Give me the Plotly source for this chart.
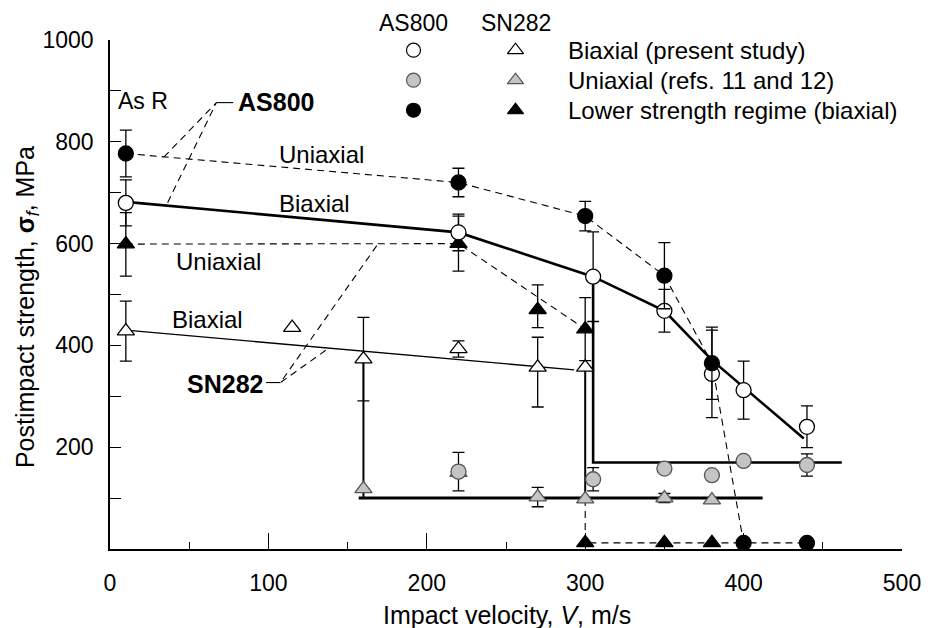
import plotly.graph_objects as go

# ---------------- data ----------------
# AS800, biaxial (present study) - open circles
as_biax_v = [10, 220, 305, 350, 380, 400, 440]
as_biax_s = [680, 622, 535, 468, 344, 312, 240]
as_biax_err = [45, 36, 88, 42, 86, 57, 41]

# AS800, uniaxial (refs. 11 and 12) - grey circles
as_uni_v = [220, 305, 350, 380, 400, 440]
as_uni_s = [152, 137, 158, 145, 173, 165]
as_uni_err = [38, 23, 0, 0, 0, 22]

# AS800, lower strength regime (biaxial) - filled circles
as_low_v = [10, 220, 300, 350, 380, 400, 440]
as_low_s = [777, 720, 654, 537, 365, 12, 12]
as_low_err = [46, 28, 29, 65, 71, 0, 0]

# SN282, biaxial (present study) - open triangles
sn_biax_v = [10, 115, 160, 220, 270, 300]
sn_biax_s = [428, 435, 373, 393, 357, 357]
sn_biax_err_hi = [59, 0, 82, 16, 59, 0]
sn_biax_err_lo = [59, 0, 82, 16, 78, 0]

# SN282, uniaxial (refs. 11 and 12) - grey triangles
sn_uni_v = [160, 220, 270, 300, 350, 380]
sn_uni_s = [118, 150, 102, 98, 100, 96]
sn_uni_err = [0, 0, 19, 0, 9, 0]

# SN282, lower strength regime (biaxial) - filled triangles
sn_low_v = [10, 220, 270, 300, 300, 350, 380]
sn_low_s = [599, 600, 470, 432, 12, 12, 12]
sn_low_err_hi = [62, 54, 49, 62, 0, 0, 0]
sn_low_err_lo = [63, 54, 35, 62, 0, 0, 0]

# trend lines
as_biax_fit_v = [10, 220, 305, 350, 380, 438]
as_biax_fit_s = [682, 622, 535, 468, 371, 217]
as_step_v = [305, 305, 462]
as_step_s = [535, 170, 170]
as_dash_v = [10, 220, 300, 350, 380, 400, 440]
as_dash_s = [777, 720, 654, 537, 365, 12, 12]

sn_biax_fit_v = [10, 293]
sn_biax_fit_s = [430, 352]
sn_step_v = [160, 160]
sn_step_s = [373, 100]
sn_step2_v = [300, 300]
sn_step2_s = [357, 100]
sn_floor_v = [157, 412]
sn_floor_s = [100, 100]
sn_dash_v = [10, 220, 300]
sn_dash_s = [599, 600, 432]
sn_drop_v = [300, 300, 400]
sn_drop_s = [98, 12, 12]

# label leaders
as_lead_v = [34, 67.2, 36]
as_lead_s = [770, 877, 678]
as_lead_tail_v = [67.2, 77.8]
as_lead_tail_s = [877, 877]
sn_lead_v = [168.4, 107.6, 138.3]
sn_lead_s = [596, 327, 395]
sn_lead_tail_v = [98.6, 107.6]
sn_lead_tail_s = [327, 327]

# axis ticks
x_major = [0, 100, 200, 300, 400, 500]
x_minor = [50, 150, 250, 350, 450]
y_major = [200, 400, 600, 800, 1000]
y_minor = [100, 300, 500, 700, 900]

FONT = "Liberation Sans, Arial, Helvetica, sans-serif"
GREY = "#c4c4c4"
GREY_EDGE = "#555555"
MS = 15

fig = go.Figure()


def line(v, s, width=1.2, dash="solid"):
    fig.add_trace(go.Scatter(x=v, y=s, mode="lines",
                             line=dict(color="black", width=width, dash=dash),
                             hoverinfo="skip", showlegend=False))


DASH = "7px,5px"
line(as_dash_v, as_dash_s, 1.1, DASH)
line(sn_dash_v, sn_dash_s, 1.1, DASH)
line(sn_drop_v, sn_drop_s, 1.1, DASH)
line(as_lead_v, as_lead_s, 1.1, DASH)
line(sn_lead_v, sn_lead_s, 1.1, DASH)
line(as_lead_tail_v, as_lead_tail_s, 1.1)
line(sn_lead_tail_v, sn_lead_tail_s, 1.1)
line(sn_biax_fit_v, sn_biax_fit_s, 1.4)
line(sn_step_v, sn_step_s, 2.0)
line(sn_step2_v, sn_step2_s, 2.0)
line(sn_floor_v, sn_floor_s, 3.0)
line(as_step_v, as_step_s, 2.6)
line(as_biax_fit_v, as_biax_fit_s, 2.6)


def pts(v, s, symbol, fill, edge, hi=None, lo=None):
    err = None
    if hi is not None:
        err = dict(type="data", array=hi, arrayminus=lo if lo is not None else hi,
                   symmetric=False, color="black", thickness=1.3, width=6)
    fig.add_trace(go.Scatter(
        x=v, y=s, mode="markers", error_y=err, cliponaxis=False,
        marker=dict(symbol=symbol, size=MS, color=fill,
                    line=dict(color=edge, width=1.3)),
        hoverinfo="skip", showlegend=False))


pts(sn_uni_v, sn_uni_s, "triangle-up", GREY, GREY_EDGE, sn_uni_err)
pts(as_uni_v, as_uni_s, "circle", GREY, GREY_EDGE, as_uni_err)
pts(sn_biax_v, sn_biax_s, "triangle-up", "white", "black", sn_biax_err_hi, sn_biax_err_lo)
pts(sn_low_v, sn_low_s, "triangle-up", "black", "black", sn_low_err_hi, sn_low_err_lo)
pts(as_biax_v, as_biax_s, "circle", "white", "black", as_biax_err)
pts(as_low_v, as_low_s, "circle", "black", "black", as_low_err)

# legend keys
key_as_v = [191.6, 191.6, 191.6]
key_sn_v = [256, 256, 256]
key_s = [980, 921, 862]
key_fill = ["white", GREY, "black"]
key_edge = ["black", GREY_EDGE, "black"]
key_text = ["Biaxial (present study)", "Uniaxial (refs. 11 and 12)",
            "Lower strength regime (biaxial)"]
fig.add_trace(go.Scatter(x=key_as_v, y=key_s, mode="markers", cliponaxis=False,
                         marker=dict(symbol="circle", size=14, color=key_fill,
                                     line=dict(color=key_edge, width=1.2)),
                         hoverinfo="skip", showlegend=False))
fig.add_trace(go.Scatter(x=key_sn_v, y=key_s, mode="markers", cliponaxis=False,
                         marker=dict(symbol="triangle-up", size=14, color=key_fill,
                                     line=dict(color=key_edge, width=1.2)),
                         hoverinfo="skip", showlegend=False))

ann = []


def text(x, y, t, xanchor="center", size=24, xref="x", yref="y", angle=0):
    ann.append(dict(x=x, y=y, xref=xref, yref=yref, text=t, showarrow=False,
                    xanchor=xanchor, yanchor="middle", textangle=angle,
                    font=dict(family=FONT, size=size, color="black")))


# column headers of the key sit just above the plotting area
text(191.6, 1.0334, "AS800", size=23, yref="paper")
text(256, 1.0334, "SN282", size=23, yref="paper")
for s, t in zip(key_s, key_text):
    text(288, s, t, xanchor="left", size=24)

text(21, 880, "As R", size=23)
text(104.7, 878, "<b>AS800</b>", size=25)
text(133.8, 776, "Uniaxial")
text(129, 678, "Biaxial")
text(68.4, 564, "Uniaxial")
text(61.6, 450, "Biaxial")
text(72.8, 324, "<b>SN282</b>", size=25)

# axis titles
text(0.5013, -0.1297, "Impact velocity, <i>V</i>, m/s", size=25,
     xref="paper", yref="paper")
text(-0.104, 0.4745, "Postimpact strength, <b>σ</b><sub><i>f</i></sub>, MPa", size=25,
     xref="paper", yref="paper", angle=-90)

fig.update_layout(
    width=933, height=628,
    margin=dict(l=110, r=22, t=40, b=79),
    paper_bgcolor="white", plot_bgcolor="white",
    font=dict(family=FONT, size=23, color="black"),
    annotations=ann,
    xaxis=dict(
        range=[0, 500], showgrid=False, zeroline=False,
        showline=True, linecolor="black", linewidth=1.5,
        ticks="inside", tickvals=x_major,
        ticklen=16, tickwidth=1.3, tickcolor="black",
        ticklabelstandoff=13, tickfont=dict(size=23),
        minor=dict(tickvals=x_minor, ticks="inside",
                   ticklen=7, tickwidth=1.3, tickcolor="black"),
    ),
    yaxis=dict(
        range=[0, 1000], showgrid=False, zeroline=False,
        showline=True, linecolor="black", linewidth=1.5,
        ticks="inside", tickvals=y_major,
        ticklen=11, tickwidth=1.3, tickcolor="black",
        ticklabelstandoff=10, tickfont=dict(size=23),
        minor=dict(tickvals=y_minor, ticks="inside",
                   ticklen=11, tickwidth=1.3, tickcolor="black"),
    ),
)

fig.write_html("out.html")
